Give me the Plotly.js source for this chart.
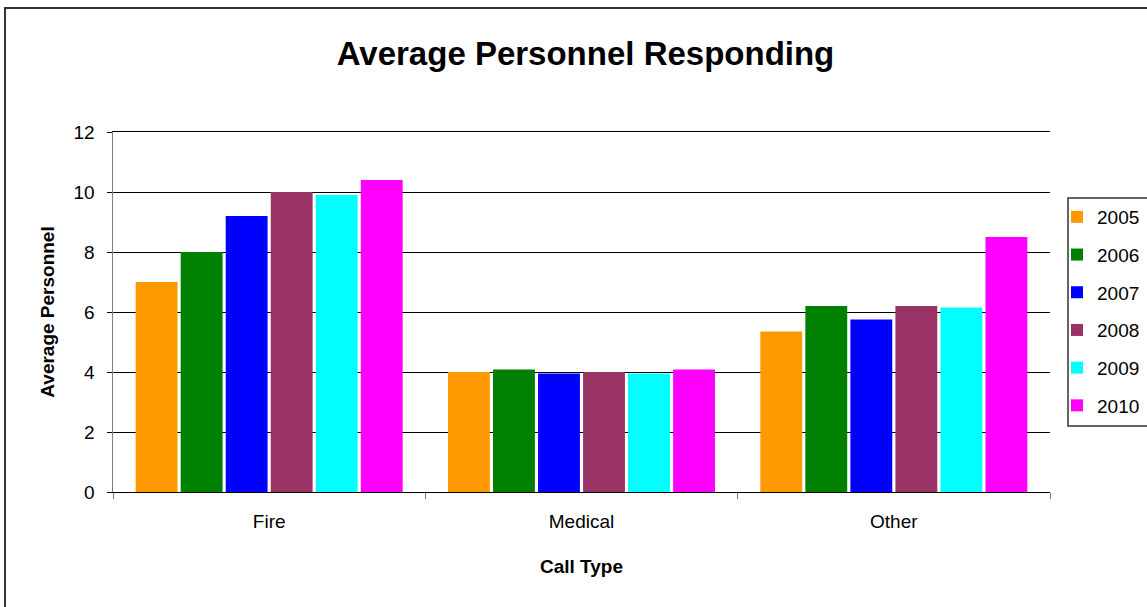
<!DOCTYPE html>
<html>
<head>
<meta charset="utf-8">
<script src="https://cdn.plot.ly/plotly-3.0.1.min.js"></script>
<style>
  html, body { margin: 0; padding: 0; background: #fff; }
  #wrap { position: relative; width: 1147px; height: 607px; overflow: hidden; }
  #chart { width: 1147px; height: 607px; }
  #frame { position: absolute; left: 4px; top: 7px; width: 1160px; height: 620px;
           border: 2px solid #333; pointer-events: none; box-sizing: border-box; }
</style>
</head>
<body>
<div id="wrap">
  <div id="chart"></div>
  <div id="frame"></div>
</div>
<script>
const categories = ["Fire", "Medical", "Other"];
const years = ["2005", "2006", "2007", "2008", "2009", "2010"];
const v2005 = [7.0, 4.0, 5.35];
const v2006 = [8.0, 4.08, 6.2];
const v2007 = [9.2, 3.95, 5.75];
const v2008 = [10.0, 4.0, 6.2];
const v2009 = [9.9, 3.95, 6.15];
const v2010 = [10.4, 4.08, 8.5];
const seriesValues = [v2005, v2006, v2007, v2008, v2009, v2010];
const colors = ["#FF9900", "#008000", "#0000FF", "#993366", "#00FFFF", "#FF00FF"];
const yTicks = [0, 2, 4, 6, 8, 10, 12];

const traces = years.map((yr, i) => ({
  type: "bar",
  name: yr,
  x: categories,
  y: seriesValues[i],
  marker: { color: colors[i], line: { width: 0 } },
  legendgroup: "g" + i,
  hoverinfo: "x+y+name"
}));

const font = "Arial, 'Liberation Sans', sans-serif";

const layout = {
  width: 1147,
  height: 607,
  margin: { l: 113, r: 97, t: 132, b: 115, autoexpand: false },
  paper_bgcolor: "#ffffff",
  plot_bgcolor: "#ffffff",
  font: { family: font, color: "#000" },
  title: {
    text: "<b>Average Personnel Responding</b>",
    font: { family: font, size: 33, color: "#000" },
    xref: "paper", x: 0.5 + 4 / 937, xanchor: "center",
    yref: "container", y: 1 - 53 / 607, yanchor: "middle"
  },
  barmode: "group",
  bargap: 0.135,
  bargroupgap: 0.07,
  xaxis: {
    type: "category",
    showline: true, linecolor: "#000", linewidth: 1, mirror: true,
    ticks: "outside", tickson: "boundaries", ticklen: 6, tickcolor: "#808080", tickwidth: 1,
    ticklabelstandoff: 12,
    tickfont: { family: font, size: 19, color: "#000" },
    showgrid: false,
    automargin: false,
    title: { text: "<b>Call Type</b>", font: { family: font, size: 19, color: "#000" }, standoff: 28 }
  },
  yaxis: {
    range: [0, 12],
    tickvals: yTicks,
    ticktext: yTicks.map(String),
    showline: true, linecolor: "#808080", linewidth: 1.5,
    ticks: "outside", ticklen: 5, tickcolor: "#000", tickwidth: 1,
    ticklabelstandoff: 8,
    tickfont: { family: font, size: 19, color: "#000" },
    showgrid: true, gridcolor: "#000", gridwidth: 1,
    zeroline: false,
    automargin: false,
    title: { text: "<b>Average Personnel</b>", font: { family: font, size: 19, color: "#000" }, standoff: 14 }
  },
  showlegend: true,
  legend: {
    x: (1057 - 113) / 937, xanchor: "left",
    y: (492 - 198) / 360, yanchor: "top",
    traceorder: "grouped",
    tracegroupgap: 10,
    font: { family: font, size: 19, color: "#000" },
    bgcolor: "rgba(0,0,0,0)",
    borderwidth: 0
  },
  shapes: [{
    type: "rect", xref: "paper", yref: "paper",
    x0: (1068 - 113) / 937, x1: (1160 - 113) / 937,
    y0: (492 - 426) / 360, y1: (492 - 198) / 360,
    line: { color: "#333", width: 1.5 }, fillcolor: "rgba(0,0,0,0)", layer: "above"
  }]
};

Plotly.newPlot("chart", traces, layout, { displayModeBar: false, staticPlot: true });
</script>
</body>
</html>
